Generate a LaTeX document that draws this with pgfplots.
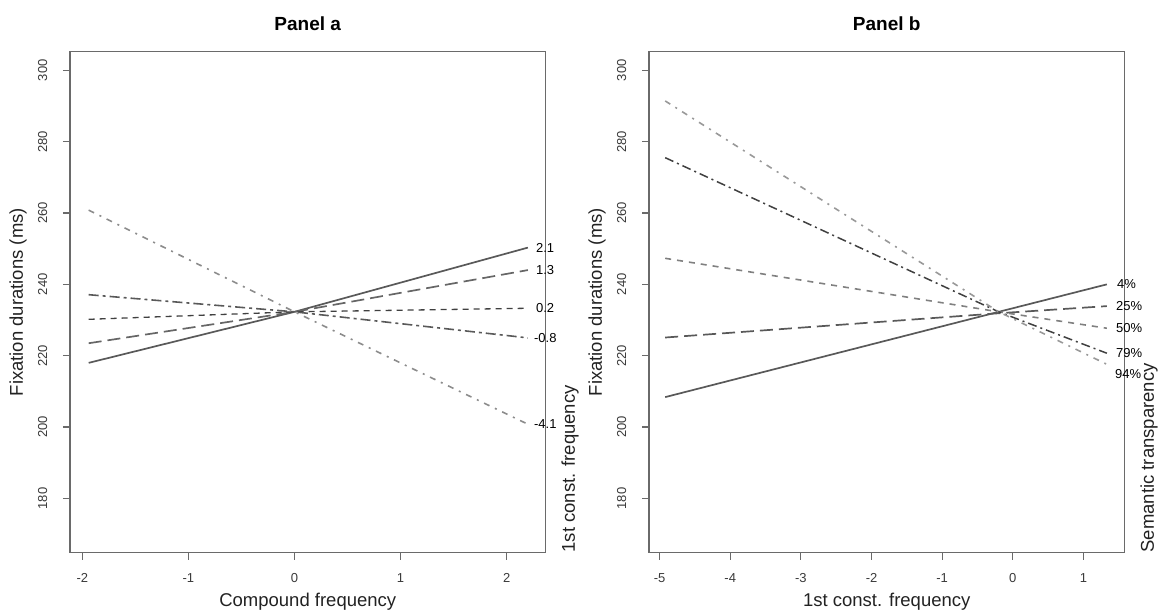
\documentclass[border=0pt]{standalone}
\usepackage{fontspec}
\setmainfont{Liberation Sans}
\usepackage{pgfplots}
\pgfplotsset{compat=1.18}
\definecolor{framegray}{HTML}{6A6A6A}
\definecolor{tickgray}{HTML}{3A3A3A}
\definecolor{labgray}{HTML}{222222}
\tikzset{
  lab/.style={anchor=west, inner sep=0pt, font=\fontsize{13bp}{15bp}\selectfont, text=black},
  side/.style={xshift=24.5bp, rotate=90, anchor=west, inner sep=0pt, font=\fontsize{18.5bp}{22bp}\selectfont, text=labgray},
  tk/.style={draw=framegray, line width=1.2bp},
}
\pgfplotsset{
  panel/.style={
    scale only axis, width=475.5bp, height=501bp, anchor=south west,
    ymin=164.8, ymax=305.2, ytick={180,200,220,240,260,280,300},
    axis line style={draw=framegray, line width=1.3bp},
    clip=false,
    xtick pos=left, ytick pos=left,
    tick align=outside, major tick length=7bp,
    every tick/.append style={framegray, line width=1.2bp},
    /pgf/number format/assume math mode=true,
    every tick label/.append style={font=\fontsize{13bp}{15bp}\selectfont, text=tickgray},
    yticklabel style={rotate=90, anchor=south, inner sep=0pt},
    yticklabel shift=15.5bp,
    xticklabel style={anchor=north, inner sep=0pt},
    xticklabel shift=13.5bp,
    every axis title/.style={at={(0.5,1)}, anchor=center, yshift=27.7bp, font=\bfseries\fontsize{19bp}{22bp}\selectfont},
    every axis x label/.style={at={(0.5,0)}, anchor=center, yshift=-49.5bp, font=\fontsize{18.5bp}{22bp}\selectfont, text=labgray},
    every axis y label/.style={at={(0,0.5)}, xshift=-52bp, rotate=90, anchor=center, font=\fontsize{18.5bp}{22bp}\selectfont, text=labgray},
  },
}
\begin{document}
\begin{tikzpicture}
\useasboundingbox (0,0) rectangle (1165bp,615bp);
% ---------------- Panel a ----------------
\begin{axis}[panel, at={(70bp,62.3bp)},
  xmin=-2.116, xmax=2.366, xtick={-2,-1,0,1,2},
  title={Panel a}, xlabel={Compound frequency}, ylabel={Fixation durations (ms)}]
\addplot[color=black!65, line width=1.7bp] coordinates {(-1.94,218.0) (0,232.3) (2.2,250.3)};
\addplot[color=black!60, line width=1.7bp, dash pattern=on 13bp off 6bp] coordinates {(-1.94,223.5) (0,232.3) (2.2,244.0)};
\addplot[color=black!75, line width=1.3bp, dash pattern=on 6bp off 5bp] coordinates {(-1.94,230.2) (0,232.3) (2.2,233.3)};
\addplot[color=black!65, line width=1.6bp, dash pattern=on 10bp off 4bp on 3bp off 4bp] coordinates {(-1.94,237.1) (0,232.3) (2.2,225.0)};
\addplot[color=black!45, line width=1.6bp, dash pattern=on 6bp off 6bp on 2bp off 6bp] coordinates {(-1.94,260.8) (0,232.3) (2.2,200.8)};
\pgfplotsinvokeforeach{-2,-1,0,1,2}{\draw[tk] (axis cs:#1,164.8) -- ++(0bp,-7bp);}
\pgfplotsinvokeforeach{180,200,220,240,260,280,300}{\draw[tk] (axis cs:-2.116,#1) -- ++(-7bp,0bp);}
\node[lab, xshift=8bp] at (axis cs:2.2,250.3) {2.1};
\node[lab, xshift=8bp] at (axis cs:2.2,244.0) {1.3};
\node[lab, xshift=8bp] at (axis cs:2.2,233.3) {0.2};
\node[lab, xshift=6bp] at (axis cs:2.2,225.0) {-0.8};
\node[lab, xshift=6bp] at (axis cs:2.2,200.8) {-4.1};
\node[side] at (rel axis cs:1,0) {1st const. frequency};
\end{axis}
% ---------------- Panel b ----------------
\begin{axis}[panel, at={(649bp,62.3bp)},
  xmin=-5.149, xmax=1.58, xtick={-5,-4,-3,-2,-1,0,1},
  title={Panel b}, xlabel={1st const. frequency}, ylabel={Fixation durations (ms)}]
\addplot[color=black!65, line width=1.7bp] coordinates {(-4.92,208.4) (-0.2,232.3) (1.33,240.0)};
\addplot[color=black!65, line width=1.7bp, dash pattern=on 13bp off 6bp] coordinates {(-4.92,225.1) (-0.2,231.9) (1.33,233.9)};
\addplot[color=black!50, line width=1.6bp, dash pattern=on 6bp off 6bp] coordinates {(-4.92,247.3) (-0.2,232.3) (1.33,227.7)};
\addplot[color=black!75, line width=1.5bp, dash pattern=on 9bp off 4bp on 2bp off 4bp] coordinates {(-4.92,275.5) (-0.2,232.3) (1.33,220.7)};
\addplot[color=black!40, line width=1.6bp, dash pattern=on 6bp off 6bp on 2bp off 6bp] coordinates {(-4.92,291.4) (-0.2,232.3) (1.33,217.6)};
\pgfplotsinvokeforeach{-5,-4,-3,-2,-1,0,1}{\draw[tk] (axis cs:#1,164.8) -- ++(0bp,-7bp);}
\pgfplotsinvokeforeach{180,200,220,240,260,280,300}{\draw[tk] (axis cs:-5.149,#1) -- ++(-7bp,0bp);}
\node[lab, xshift=10bp] at (axis cs:1.33,240.0) {4\%};
\node[lab, xshift=9bp] at (axis cs:1.33,233.9) {25\%};
\node[lab, xshift=9bp] at (axis cs:1.33,227.7) {50\%};
\node[lab, xshift=9bp] at (axis cs:1.33,220.7) {79\%};
\node[lab, xshift=8bp] at (axis cs:1.33,214.8) {94\%};
\node[side] at (rel axis cs:1,0) {Semantic transparency};
\end{axis}
\end{tikzpicture}
\end{document}
